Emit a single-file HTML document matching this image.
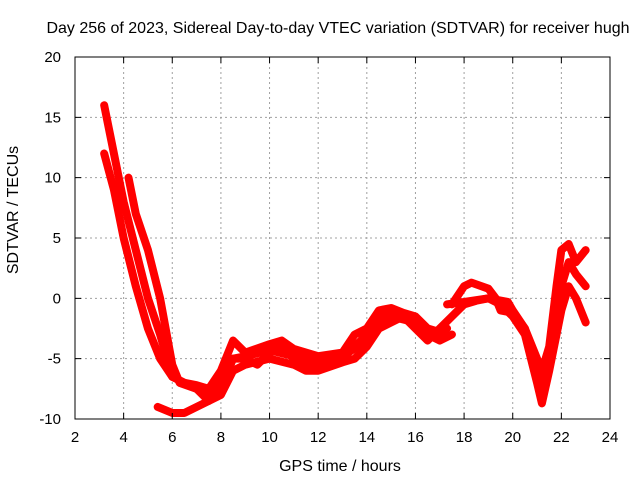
<!DOCTYPE html>
<html><head><meta charset="utf-8"><style>
body{margin:0;background:#fff}
svg{display:block;font-family:"Liberation Sans",sans-serif}
</style></head><body>
<svg id="chart" width="640" height="480" viewBox="0 0 640 480">
<text x="338" y="33" font-size="16" text-anchor="middle">Day 256 of 2023, Sidereal Day-to-day VTEC variation (SDTVAR) for receiver hugh</text>
<text x="340" y="471" font-size="16" text-anchor="middle">GPS time / hours</text>
<text transform="translate(18,210) rotate(-90)" font-size="16" text-anchor="middle">SDTVAR / TECUs</text>
<g id="grid"></g><g id="series"></g><g id="axes"></g>
</svg>
<script>
const xTicks=[2,4,6,8,10,12,14,16,18,20,22,24];
const yTicks=[-10,-5,0,5,10,15,20];
const seriesA=[[3.2,12],[3.6,9],[4.0,5],[4.5,1],[5,-2.5],[5.5,-5],[6,-6.5],[6.5,-7],[7,-7.5],[7.5,-8.5],[8,-6.5],[8.5,-5],[9,-5],[9.5,-5.5],[10,-4.5],[10.5,-4],[11,-5],[11.5,-5.5],[12,-5.8],[12.5,-5.2],[13,-5],[13.5,-4],[14,-3],[14.5,-1.5],[15,-1.2],[15.5,-1.5],[16,-2.5],[16.5,-3.5],[17,-2.5],[17.5,-1.5],[18,-0.5],[18.5,-0.2],[19,0],[19.5,-0.5],[20,-1.5],[20.5,-3],[21,-7],[21.2,-8.7],[21.5,-6],[22,-1],[22.3,1],[22.6,0],[23,-2]];
const seriesB=[[3.2,16],[3.5,13],[4,8],[4.5,4],[5,0],[5.5,-3],[6,-6.5],[6.5,-7],[7,-7.2],[7.5,-7.5],[8,-6],[8.5,-3.5],[9,-4.5],[10,-3.8],[10.5,-3.5],[11,-4.2],[12,-4.8],[13,-4.5],[13.5,-3],[14,-2.5],[14.5,-1],[15,-0.8],[15.5,-1.2],[16,-1.5],[16.5,-2.5],[17,-2.8],[17.3,-2.5]];
const seriesC=[[4.2,10],[4.5,7],[5,4],[5.5,0],[6,-5.5],[6.3,-7],[7,-7.5],[7.5,-8],[8,-7.5],[8.5,-5],[9,-4.8],[10,-4.3],[11,-4.8],[12,-5.2],[13,-4.8],[14,-3.5],[14.5,-2],[15,-1.5],[16,-2],[16.5,-3],[17,-3.2]];
const seriesD=[[5.4,-9],[6,-9.5],[6.5,-9.5],[7,-9],[7.5,-8.5],[8,-8],[8.5,-6],[9,-5.5],[10,-5],[11,-5.5],[11.5,-6],[12,-6],[13,-5.3],[13.5,-5],[14,-4],[14.5,-2.5],[15,-2],[15.5,-1.5],[16,-2],[16.5,-3],[17,-3.5],[17.5,-3]];
const seriesE=[[17.5,-0.5],[18,1],[18.3,1.3],[19,0.8],[19.3,0],[19.5,-1],[20,-1.2],[20.5,-2.5],[21,-5],[21.2,-6],[21.5,-4],[21.8,1],[22,4],[22.3,4.5],[22.6,3],[23,4]];
const seriesF=[[17.3,-0.5],[18,-0.3],[19,0],[19.8,-0.3],[20,-1],[20.5,-2.5],[21,-6],[21.3,-7.5],[21.7,-3],[22,1],[22.3,3],[22.6,2],[23,1]];
const allSeries=[seriesA,seriesB,seriesC,seriesD,seriesE,seriesF];
const L=75,R=610,T=57,B=419,xmin=2,xmax=24,ymin=-10,ymax=20;
const X=v=>L+(v-xmin)/(xmax-xmin)*(R-L);
const Y=v=>B-(v-ymin)/(ymax-ymin)*(B-T);
const NS='http://www.w3.org/2000/svg';
function mk(tag,attrs,parent){const e=document.createElementNS(NS,tag);for(const k in attrs)e.setAttribute(k,attrs[k]);parent.appendChild(e);return e;}
const grid=document.getElementById('grid'),axes=document.getElementById('axes'),ser=document.getElementById('series');
xTicks.forEach(t=>{
 if(t>xmin&&t<xmax){const g=mk('line',{x1:X(t),x2:X(t),y1:T,y2:B,stroke:'#a0a0a0','stroke-dasharray':'2,3'},grid);
 
 }
 const tk=mk('path',{d:`M${X(t)},${B}v-6M${X(t)},${T}v6`,stroke:'#000'},axes);
 
 
 const lb=mk('text',{x:X(t),y:B+23,'font-size':15,'text-anchor':'middle'},axes);lb.textContent=t;
 
 
});
yTicks.forEach(t=>{
 if(t>ymin&&t<ymax){const g=mk('line',{x1:L,x2:R,y1:Y(t),y2:Y(t),stroke:'#a0a0a0','stroke-dasharray':'2,3'},grid);
 
 }
 const tk=mk('path',{d:`M${L},${Y(t)}h6M${R},${Y(t)}h-6`,stroke:'#000'},axes);
 
 
 const lb=mk('text',{x:L-14,y:Y(t)+5,'font-size':15,'text-anchor':'end'},axes);lb.textContent=t;
 
 
});
const frame=mk('rect',{x:L,y:T,width:R-L,height:B-T,fill:'none',stroke:'#000'},axes);


allSeries.forEach(s=>{
 const p=mk('polyline',{points:s.map(d=>X(d[0])+','+Y(d[1])).join(' '),fill:'none',stroke:'#ff0000','stroke-width':8,'stroke-linejoin':'round','stroke-linecap':'round'},ser);
 
 
});
</script>
</body></html>
